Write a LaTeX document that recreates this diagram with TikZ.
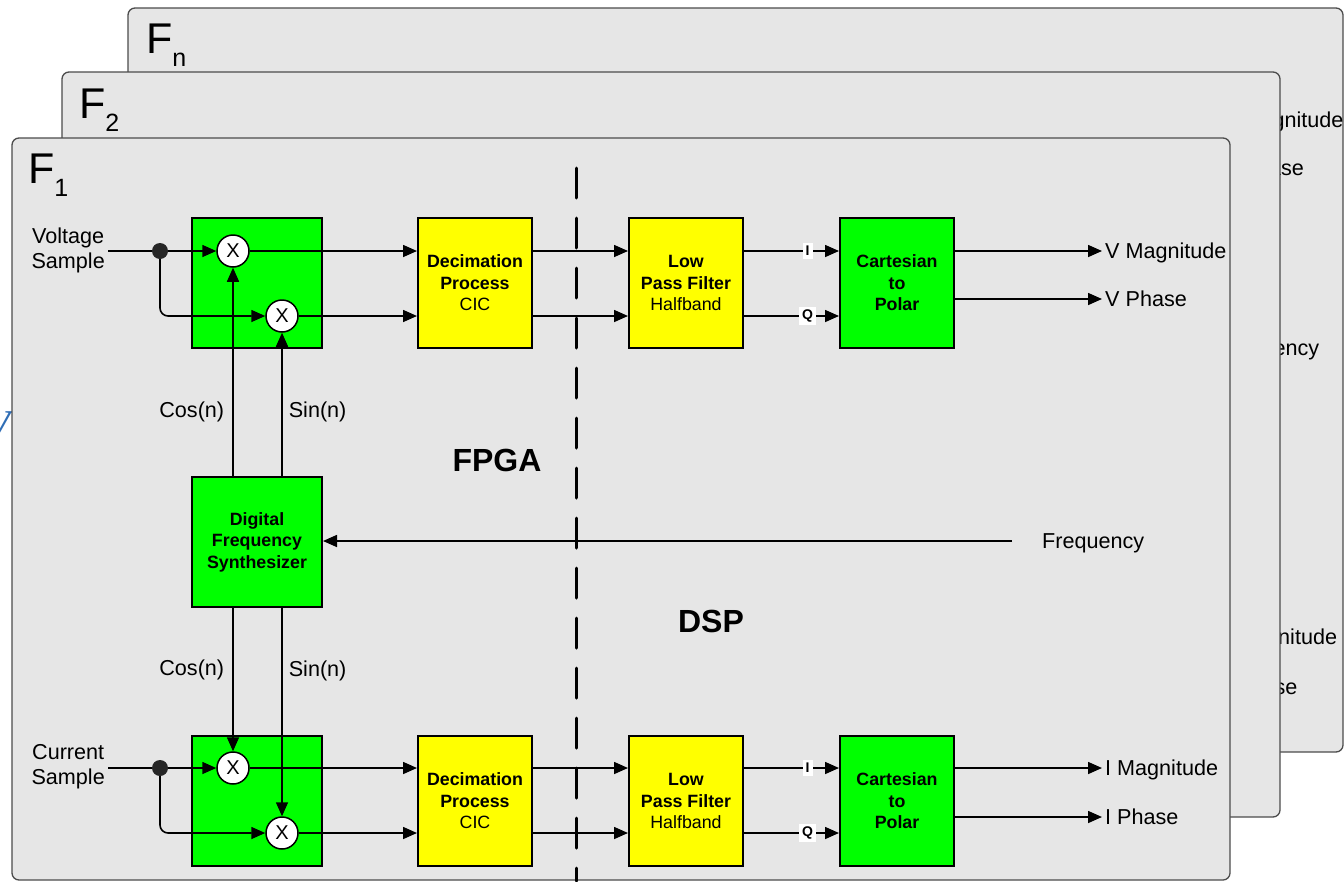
\documentclass[tikz,border=0pt]{standalone}
\usepackage{fontspec}
\setmainfont{Liberation Sans}
\newfontfamily\fragfont{Liberation Serif}
\usetikzlibrary{arrows.meta,positioning}

\definecolor{panelgray}{HTML}{E6E6E6}
\definecolor{boxgreen}{HTML}{00FF00}
\definecolor{boxyellow}{HTML}{FFFF00}
\definecolor{vblue}{HTML}{2F6DB5}

\newcommand{\fsub}[1]{F\raisebox{-13pt}{\fontsize{25}{25}\selectfont #1}}

\begin{document}
\begin{tikzpicture}[x=1pt,y=-1pt,
	panel/.style={draw=black!70, line width=1.3pt, fill=panelgray, rounded corners=7pt},
	block/.style={draw, line width=2pt, minimum width=114pt, minimum height=130pt, inner sep=0pt,
		align=center, font=\fontsize{17.8}{21.5}\selectfont\bfseries},
	mixer/.style={circle, draw, fill=white, line width=1.5pt, minimum size=32pt, inner sep=0pt,
		font=\fontsize{20}{20}\selectfont},
	dot/.style={circle, fill=black!85, minimum size=16pt, inner sep=0pt},
	lbl/.style={inner sep=3pt, align=center, font=\fontsize{21.6}{25}\selectfont},
	one/.style={lbl, text height=15.5pt, text depth=0pt},
	flbl/.style={anchor=base west, inner sep=0pt, font=\fontsize{43}{43}\selectfont},
	big/.style={font=\fontsize{32}{32}\selectfont\bfseries},
	iq/.style={fill=white, inner sep=3pt, font=\fontsize{14}{14}\selectfont\bfseries},
	wire/.style={line width=1.6pt},
	sig/.style={wire, -{Triangle[length=14pt,width=12pt]}},
	divider/.style={line width=3pt, line cap=round, dash pattern=on 30pt off 20pt}]
	\useasboundingbox (0,0) rectangle (1344,881);

	% stacked frequency panels
	\draw[panel] (128,8) rectangle (1343,752);
	\node[flbl] (fnlbl) at (146,53) {\fsub{n}};
	\node[one, anchor=west] (fnmag) at (1219,120) {V Magnitude};
	\node[one, anchor=west] (fnphs) at (1219,168) {V Phase};
	\node[one, anchor=west] (fnfreq) at (1214,348) {Frequency};
	\node[one, anchor=west] (fnimag) at (1221,637) {I Magnitude};
	\node[one, anchor=west] (fniphs) at (1221,687) {I Phase};

	\draw[panel] (62,72) rectangle (1280,817);
	\node[flbl] (f2lbl) at (79,118) {\fsub{2}};

	\node[text=vblue, anchor=base east, inner sep=0pt, font=\fragfont\itshape\fontsize{44}{44}\selectfont] (vfrag) at (11,440) {V};

	\draw[panel] (12,138) rectangle (1230,880);
	\node[flbl] (f1lbl) at (28,183) {\fsub{1}};

	% voltage path
	\node[block, fill=boxgreen, minimum width=130pt] (vmix) at (257,283) {};
	\node[mixer] (vx1) at (233,251) {X};
	\node[mixer] (vx2) at (282,316) {X};
	\node[block, fill=boxyellow] (vdec) at (475,283) {Decimation\\Process\\{\mdseries CIC}};
	\node[block, fill=boxyellow] (vlpf) at (686,283) {Low\\Pass Filter\\{\mdseries Halfband}};
	\node[block, fill=boxgreen] (vcp) at (897,283) {Cartesian\\to\\Polar};
	\node[lbl, anchor=east] (vin) at (108,250) {Voltage\\Sample};
	\node[one, anchor=west] (vmag) at (1102,251) {V Magnitude};
	\node[one, anchor=west] (vphs) at (1102,299) {V Phase};

	% synthesizer
	\node[block, fill=boxgreen, minimum width=130pt] (dfs) at (257,542) {Digital\\Frequency\\Synthesizer};
	\coordinate (fin) at (1012,541);
	\node[one, anchor=west] (freq) at (1039,541) {Frequency};

	% current path
	\node[block, fill=boxgreen, minimum width=130pt] (imix) at (257,801) {};
	\node[mixer] (ix1) at (233,768) {X};
	\node[mixer] (ix2) at (282,833) {X};
	\node[block, fill=boxyellow] (idec) at (475,801) {Decimation\\Process\\{\mdseries CIC}};
	\node[block, fill=boxyellow] (ilpf) at (686,801) {Low\\Pass Filter\\{\mdseries Halfband}};
	\node[block, fill=boxgreen] (icp) at (897,801) {Cartesian\\to\\Polar};
	\node[lbl, anchor=east] (iin) at (108,767) {Current\\Sample};
	\node[one, anchor=west] (imag) at (1102,768) {I Magnitude};
	\node[one, anchor=west] (iphs) at (1102,817) {I Phase};

	\node[big] (fpga) at (497,460) {FPGA};
	\node[big] (dsp) at (711,621) {DSP};

	\draw[sig] (vin.east |- vx1) -- (vx1.west);
	\draw[sig, rounded corners=8pt] (160,251) |- (vx2.west);
	\draw[sig] (vx1.east) -- (vdec.west |- vx1);
	\draw[sig] (vx2.east) -- (vdec.west |- vx2);
	\draw[sig] (vdec.east |- vx1) -- (vlpf.west |- vx1);
	\draw[sig] (vdec.east |- vx2) -- (vlpf.west |- vx2);
	\draw[sig] (vlpf.east |- vx1) -- node[iq, pos=0.67] (vi) {I} (vcp.west |- vx1);
	\draw[sig] (vlpf.east |- vx2) -- node[iq, pos=0.67] (vq) {Q} (vcp.west |- vx2);
	\draw[sig] (vcp.east |- vmag) -- (vmag.west);
	\draw[sig] (vcp.east |- vphs) -- (vphs.west);

	\draw[sig] (fin) -- (dfs.east |- fin);
	\draw[sig] (dfs.north -| vx1) -- node[lbl, left=5pt, pos=0.31] (vcos) {Cos(n)} (vx1.south);
	\draw[sig] (dfs.north -| vx2) -- node[lbl, right=3pt, pos=0.45] (vsin) {Sin(n)} (vx2.south);
	\draw[sig] (dfs.south -| ix1) -- node[lbl, left=5pt, pos=0.43] (icos) {Cos(n)} (ix1.north);
	\draw[sig] (dfs.south -| ix2) -- node[lbl, right=3pt, pos=0.3] (isin) {Sin(n)} (ix2.north);

	\draw[sig] (iin.east |- ix1) -- (ix1.west);
	\draw[sig, rounded corners=8pt] (160,768) |- (ix2.west);
	\draw[sig] (ix1.east) -- (idec.west |- ix1);
	\draw[sig] (ix2.east) -- (idec.west |- ix2);
	\draw[sig] (idec.east |- ix1) -- (ilpf.west |- ix1);
	\draw[sig] (idec.east |- ix2) -- (ilpf.west |- ix2);
	\draw[sig] (ilpf.east |- ix1) -- node[iq, pos=0.67] (ii) {I} (icp.west |- ix1);
	\draw[sig] (ilpf.east |- ix2) -- node[iq, pos=0.67] (iq) {Q} (icp.west |- ix2);
	\draw[sig] (icp.east |- imag) -- (imag.west);
	\draw[sig] (icp.east |- iphs) -- (iphs.west);

	\node[dot] (vdot) at (160,251) {};
	\node[dot] (idot) at (160,768) {};

	% FPGA / DSP border
	\coordinate (cuttop) at (576,168);
	\coordinate (cutbot) at (576,881);
	\draw[divider] (cuttop) -- (cutbot);
\end{tikzpicture}
\end{document}
